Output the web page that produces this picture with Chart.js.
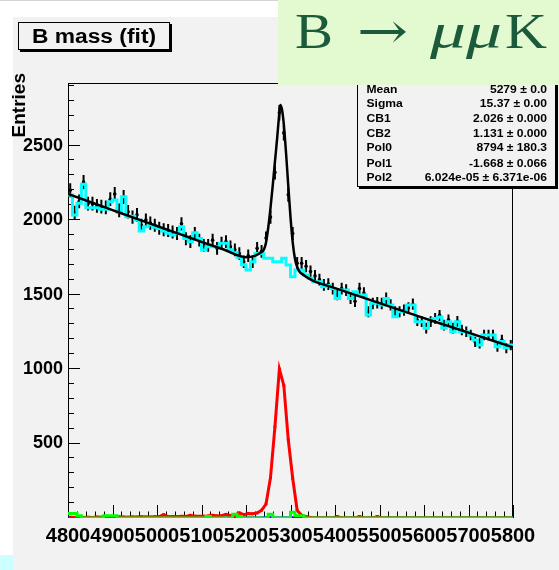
<!DOCTYPE html>
<html><head><meta charset="utf-8">
<script src="https://cdn.jsdelivr.net/npm/chart.js@4.4.1/dist/chart.umd.min.js"></script>
<style>html,body{margin:0;padding:0;background:#fff;overflow:hidden}canvas{display:block}</style>
</head><body>
<canvas id="c" width="559" height="570"></canvas>
<script>
// ---- axis definitions ----
const massMin = 4800, massMax = 5800, binWidth = 10, yMax = 2920;
const xTickLabels = ['4800','4900','5000','5100','5200','5300','5400','5500','5600','5700','5800'];
const yTickLabels = ['500','1000','1500','2000','2500'];
// ---- data (entries per 10 MeV bin, bins from 4800 to 5800) ----
const dataCounts = [2200,2050,2125,2255,2110,2110,2095,2090,2085,2140,
2175,2065,2155,2055,2020,2035,1965,2000,1980,1965,
1945,1935,1930,1920,1910,1975,1875,1855,1910,1865,
1830,1830,1865,1810,1845,1855,1820,1800,1775,1720,
1760,1720,1810,1790,1880,2020,2320,2720,2585,2170,
1910,1710,1710,1690,1655,1625,1600,1565,1570,1540,
1500,1540,1530,1475,1455,1540,1510,1385,1440,1445,
1440,1475,1430,1385,1385,1395,1410,1435,1325,1318,
1275,1318,1340,1360,1295,1330,1275,1320,1262,1250,
1228,1183,1172,1228,1228,1228,1150,1195,1140,1160];
const backgroundCounts = [2168,2034,2112,2240,2083,2083,2083,2072,2072,2123,
2134,2051,2157,2022,2025,2000,1926,1955,1966,1951,
1944,1926,1911,1899,1911,1955,1877,1855,1915,1877,
1799,1821,1821,1820,1845,1845,1800,1780,1750,1700,
1665,1720,1776,1776,1743,1743,1720,1720,1743,1698,
1620,1664,1664,1631,1609,1586,1586,1553,1560,1541,
1474,1530,1530,1474,1519,1497,1497,1362,1441,1441,
1430,1474,1430,1351,1385,1385,1430,1430,1318,1318,
1273,1330,1340,1350,1273,1318,1250,1318,1250,1250,
1228,1195,1161,1228,1228,1228,1150,1184,1141,1161];
const signalCounts = [5,4,6,3,5,4,6,5,4,6,
5,7,6,5,7,6,8,7,6,8,
9,22,9,10,9,11,10,18,12,11,
12,13,18,14,15,24,17,19,34,22,
30,28,34,52,94,270,612,1000,890,525,
265,50,18,8,3,1,0,0,0,0,
10,0,0,0,0,10,0,0,0,10,
0,0,0,0,0,0,0,0,0,0,
0,0,0,0,0,0,0,0,0,0,
0,0,0,0,0,0,0,0,0,0];
const greenCounts = [30,30,15,0,0,0,0,0,15,15,
15,0,0,0,0,0,0,0,0,0,
0,0,0,0,0,0,0,0,0,0,
0,10,0,0,0,0,0,25,10,0,
0,0,0,0,0,25,0,0,0,0,
38,15,15,0,0,0,0,0,0,0,
0,0,0,0,0,0,0,0,0,0,
0,0,0,0,0,0,0,0,0,0,
0,0,0,0,0,0,0,0,0,0,
0,0,0,0,0,0,0,0,0,0];
const blueCounts = [2,2,0,0,0,0,0,0,0,0,
0,0,0,0,0,0,0,0,0,0,
0,0,0,0,0,0,0,0,0,0,
0,0,0,0,0,0,0,2,0,0,
0,0,0,0,2,2,0,0,0,0,
2,2,0,0,0,0,0,0,0,0,
0,0,0,0,0,0,0,0,0,0,
0,0,0,0,0,0,0,0,0,0,
0,0,0,0,0,0,0,0,0,0,
0,0,0,0,0,0,0,0,0,0];
// fit curve
const fitMass = [4800,4850,4900,4950,5000,5050,5100,5150,5200,5220,5235,5240,5245,5250,5255,5260,5265,5270,5274,5277,5281,5285,5290,5295,5300,5305,5310,5315,5320,5330,5340,5350,5400,5450,5500,5550,5600,5650,5700,5750,5800];
const fitValue = [2176,2121,2067,2013,1960,1907,1854,1802,1751,1760,1785,1800,1850,1950,2080,2230,2390,2550,2690,2772,2740,2640,2450,2230,2020,1850,1740,1685,1655,1630,1610,1594,1543,1493,1442,1392,1342,1293,1244,1195,1146];
// stats box
const statNames = ['Mean','Sigma','CB1','CB2','Pol0','Pol1','Pol2'];
const statValues = ['5279 \u00b1 0.0','15.37 \u00b1 0.00','2.026 \u00b1 0.000','1.131 \u00b1 0.000','8794 \u00b1 180.3','-1.668 \u00b1 0.066','6.024e-05 \u00b1 6.371e-06'];

// ---- build datasets ----
const centers = dataCounts.map((_, i) => massMin + binWidth * (i + 0.5));
const edgesStep = arr => arr.map((v, i) => ({x: massMin + binWidth * i, y: v})).concat([{x: massMax, y: arr[arr.length - 1]}]);
const pts = arr => arr.map((v, i) => ({x: centers[i], y: v}));

const SX = 1.1;
function txt(c, s, x, y, font, align, sx, color, base) {
  c.save(); c.font = font; c.fillStyle = color || '#000';
  c.textBaseline = base || 'middle'; c.textAlign = align || 'left';
  c.translate(x, y); c.scale(sx, 1); c.fillText(s, 0, 0); c.restore();
}
function fitTxt(c, s, x0, x1, base, font, color) {
  c.save(); c.font = font; c.fillStyle = color; c.textBaseline = 'alphabetic'; c.textAlign = 'left';
  const w = c.measureText(s).width;
  c.translate(x0, base); c.scale((x1 - x0) / w, 1); c.fillText(s, 0, 0); c.restore();
}

const rootPlugin = {
  id: 'rootdeco',
  beforeDraw(chart) {
    const c = chart.ctx;
    c.save();
    c.fillStyle = '#ffffff'; c.fillRect(0, 0, 559, 570);
    c.fillStyle = '#f2f2f2'; c.fillRect(13, 17, 546, 553);
    c.fillStyle = '#d4d4d4'; c.fillRect(0, 0, 559, 1);
    c.fillStyle = '#ccffff'; c.fillRect(0, 555, 13, 15);
    c.restore();
  },
  beforeDatasetsDraw(chart) {
    const c = chart.ctx, a = chart.chartArea, xs = chart.scales.x, ys = chart.scales.y;
    c.save();
    c.strokeStyle = '#000'; c.lineWidth = 1;
    c.strokeRect(Math.round(a.left) + 0.5, Math.round(a.top) + 0.5, Math.round(a.right - a.left) - 1, Math.round(a.bottom - a.top) - 1);
    c.beginPath();
    for (let v = 0; v <= yMax; v += 100) {
      const y = Math.round(ys.getPixelForValue(v)) - 0.5;
      const L = (v % 500 === 0) ? 12 : 6;
      c.moveTo(a.left, y); c.lineTo(a.left + L, y);
    }
    for (let m = massMin; m <= massMax; m += 20) {
      const x = Math.round(xs.getPixelForValue(m)) + 0.5;
      const L = (m % 100 === 0) ? 13 : 6.5;
      c.moveTo(x, a.bottom); c.lineTo(x, a.bottom - L);
    }
    c.stroke();
    c.restore();
  },
  beforeDatasetDraw(chart, args) {
    if (args.meta.label !== 'data') return;
    const c = chart.ctx, xs = chart.scales.x, ys = chart.scales.y;
    c.save();
    c.strokeStyle = '#000'; c.lineWidth = 2;
    c.beginPath();
    dataCounts.forEach((v, i) => {
      const e = Math.sqrt(v);
      const x = xs.getPixelForValue(centers[i]);
      c.moveTo(x, ys.getPixelForValue(v - e)); c.lineTo(x, ys.getPixelForValue(v + e));
    });
    c.stroke();
    c.restore();
  },
  afterDraw(chart) {
    const c = chart.ctx;
    c.save();
    // title box
    c.fillStyle = '#000'; c.fillRect(20, 24, 152, 28);
    c.fillStyle = '#f2f2f2'; c.fillRect(18, 22, 152, 28);
    c.strokeStyle = '#000'; c.lineWidth = 1; c.strokeRect(18.5, 22.5, 151, 27);
    txt(c, 'B mass (fit)', 94, 37, 'bold 20px "Liberation Sans"', 'center', 1.14);
    // y title
    c.save(); c.translate(25, 73); c.rotate(-Math.PI / 2);
    c.font = 'bold 19px "Liberation Sans"'; c.fillStyle = '#000'; c.textAlign = 'right'; c.textBaseline = 'alphabetic';
    c.fillText('Entries', 0, 0); c.restore();
    // stats box
    c.fillStyle = '#000'; c.fillRect(359, 62, 199, 127);
    c.fillStyle = '#f2f2f2'; c.fillRect(357, 60, 199, 127);
    c.strokeRect(357.5, 60.5, 198, 126);
    const rowY = [89.5, 104.3, 119, 133.7, 148.4, 163.6, 178.3];
    statNames.forEach((n, i) => {
      txt(c, n, 366.5, rowY[i], 'bold 11px "Liberation Sans"', 'left', SX);
      txt(c, statValues[i], 547, rowY[i], 'bold 11px "Liberation Sans"', 'right', SX);
    });
    // green label box
    c.fillStyle = '#e3f9d0'; c.fillRect(278, 0, 281, 85);
    const g = '#1b5a3a';
    fitTxt(c, 'B', 295, 333, 48, '50px "Liberation Serif"', g);
    fitTxt(c, '\u2192', 357, 408, 48, '50px "DejaVu Serif"', g);
    fitTxt(c, '\u03bc\u03bc', 430, 502, 48, 'italic 50px "Liberation Serif"', g);
    fitTxt(c, 'K', 505, 547, 48, '50px "Liberation Serif"', g);
    c.restore();
  }
};

const ctx = document.getElementById('c').getContext('2d');
new Chart(ctx, {
  type: 'line',
  data: {
    datasets: [
      {label: 'background', data: edgesStep(backgroundCounts), stepped: true, borderColor: '#00ffff', borderWidth: 3, pointRadius: 0, fill: false, order: 5},
      {label: 'data', data: pts(dataCounts), showLine: false, pointRadius: 1.8, pointStyle: 'circle', pointBackgroundColor: '#000', pointBorderColor: '#000', pointBorderWidth: 0, order: 6},
      {label: 'fit', data: fitMass.map((m, i) => ({x: m, y: fitValue[i]})), borderColor: '#000', borderWidth: 2.5, pointRadius: 0, cubicInterpolationMode: 'monotone', order: 4},
      {label: 'blue', data: edgesStep(blueCounts), stepped: true, borderColor: '#0000ff', borderWidth: 3, pointRadius: 0, order: 3},
      {label: 'signal', data: pts(signalCounts), borderColor: '#ff0000', borderWidth: 3, pointRadius: 2, pointStyle: 'rect', pointBackgroundColor: '#ff0000', pointBorderColor: '#ff0000', pointBorderWidth: 0, order: 2},
      {label: 'green', data: edgesStep(greenCounts), stepped: true, borderColor: '#00ff00', borderWidth: 3, pointRadius: 0, order: 1}
    ]
  },
  options: {
    responsive: false, animation: false, devicePixelRatio: 1,
    layout: {padding: {left: 0, right: 46, top: 83, bottom: 0}},
    plugins: {legend: {display: false}, tooltip: {enabled: false}, title: {display: false}},
    scales: {
      x: {
        type: 'linear', min: massMin, max: massMax,
        afterFit(s) { s.height = 52; },
        afterBuildTicks(s) { s.ticks = xTickLabels.map(t => ({value: +t})); },
        grid: {display: false, drawTicks: false}, border: {display: false},
        ticks: {autoSkip: false, maxRotation: 0, minRotation: 0, padding: 6, color: '#000',
          font: {family: 'Liberation Sans', weight: 'bold', size: 20},
          callback: (v, i) => xTickLabels[i]}
      },
      y: {
        type: 'linear', min: 0, max: yMax,
        afterFit(s) { s.width = 68; },
        afterBuildTicks(s) { s.ticks = yTickLabels.map(t => ({value: +t})); },
        grid: {display: false, drawTicks: false}, border: {display: false},
        ticks: {padding: 5, color: '#000', font: {family: 'Liberation Sans', weight: 'bold', size: 18},
          callback: (v, i) => yTickLabels[i]}
      }
    }
  },
  plugins: [rootPlugin]
});
</script>
</body></html>
